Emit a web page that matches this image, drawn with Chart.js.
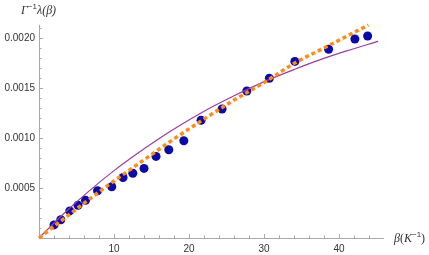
<!DOCTYPE html>
<html>
<head>
<meta charset="utf-8">
<script src="https://cdn.jsdelivr.net/npm/chart.js@4.4.1/dist/chart.umd.min.js"></script>
<style>
  html, body { margin: 0; padding: 0; background: #fff; }
  canvas { display: block; }
</style>
</head>
<body>
<canvas id="chart" width="429" height="255"></canvas>
<script>
// measured points (beta in 1/K, lambda/Gamma)
var betaPts = [2.0, 2.9, 4.1, 5.2, 6.2, 7.8, 9.7, 11.2, 12.5, 14.0, 15.6, 17.3, 19.3, 21.6, 24.4, 27.7, 30.7, 34.1, 38.6, 42.1, 43.8];
var lamPts = [0.000131, 0.000183, 0.000271, 0.000328, 0.000378, 0.000473, 0.000513, 0.000605, 0.000648, 0.000696, 0.000816, 0.000883, 0.000973, 0.001178, 0.00129, 0.00147, 0.001598, 0.001766, 0.001888, 0.00199, 0.00202];

// orange dashed curve
var fitBeta = [0, 4.3, 8.7, 13.2, 17.4, 21.6, 25.8, 30.1, 34.1, 38.5, 43.9];
var fitLam = [0, 0.00025, 0.0005, 0.00074, 0.00096, 0.00117, 0.00137, 0.00156, 0.00175, 0.00192, 0.00213];

// purple thin curve
var theoryBeta = [0, 3, 6.5, 10, 13.2, 17, 21.6, 26, 30.1, 34, 37.4, 41, 45.2];
var theoryLam = [0, 0.000223, 0.000459, 0.000674, 0.00085, 0.001043, 0.001251, 0.001422, 0.001566, 0.001685, 0.001781, 0.001871, 0.001966];

var xTicks = [10, 20, 30, 40];
var yTicks = [0.0005, 0.001, 0.0015, 0.002];

function toXY(xs, ys) {
  return xs.map(function (x, i) { return { x: x, y: ys[i] }; });
}

var axisColor = "#a8a8a8";

// small ticks drawn inside the axes, like the original
var innerTicks = {
  id: "innerTicks",
  beforeDatasetsDraw: function (chart) {
    var ctx = chart.ctx;
    var xs = chart.scales.x, ys = chart.scales.y;
    var a = chart.chartArea;
    ctx.save();
    ctx.strokeStyle = axisColor;
    ctx.lineWidth = 1;
    ctx.beginPath();
    for (var i = 2; i <= 44; i += 2) {
      var px = Math.round(xs.getPixelForValue(i)) + 0.5;
      var len = (i % 10 === 0) ? 4 : 2.5;
      ctx.moveTo(px, a.bottom);
      ctx.lineTo(px, a.bottom - len);
    }
    for (var j = 1; j <= 21; j++) {
      var py = Math.round(ys.getPixelForValue(j * 0.0001)) + 0.5;
      var l2 = (j % 5 === 0) ? 4 : 2.5;
      ctx.moveTo(a.left, py);
      ctx.lineTo(a.left + l2, py);
    }
    ctx.stroke();
    ctx.restore();
  }
};

// axis labels with superscripts
function drawParts(ctx, parts, x, y) {
  parts.forEach(function (p) {
    ctx.font = p.font;
    ctx.fillText(p.t, x, y + (p.dy || 0));
    x += ctx.measureText(p.t).width;
  });
}

var axisLabels = {
  id: "axisLabels",
  afterDraw: function (chart) {
    var ctx = chart.ctx;
    ctx.save();
    ctx.fillStyle = "#333";
    ctx.textBaseline = "middle";
    ctx.textAlign = "left";
    var it = "italic 12px 'Liberation Serif'";
    var sup = "8px 'Liberation Sans'";
    drawParts(ctx, [
      { t: "Γ", font: it },
      { t: "−1", font: sup, dy: -4 },
      { t: "λ(β)", font: it }
    ], 21, 11);
    drawParts(ctx, [
      { t: "β", font: it },
      { t: "(", font: "12px 'Liberation Serif'" },
      { t: "K", font: it },
      { t: "−1", font: sup, dy: -4 },
      { t: ")", font: "12px 'Liberation Serif'" }
    ], 394, 239);
    ctx.restore();
  }
};

new Chart(document.getElementById("chart"), {
  type: "scatter",
  data: {
    datasets: [
      {
        label: "fit",
        data: toXY(fitBeta, fitLam),
        showLine: true,
        borderColor: "#ff8c1a",
        borderWidth: 3.5,
        borderDash: [4, 3],
        pointRadius: 0,
        cubicInterpolationMode: "monotone",
        fill: false,
        clip: false,
        order: 1
      },
      {
        label: "theory",
        data: toXY(theoryBeta, theoryLam),
        showLine: true,
        borderColor: "#9b3d9f",
        borderWidth: 1.2,
        pointRadius: 0,
        cubicInterpolationMode: "monotone",
        fill: false,
        clip: false,
        order: 2
      },
      {
        label: "data",
        data: toXY(betaPts, lamPts),
        showLine: false,
        pointRadius: 4.5,
        pointBackgroundColor: "#0a0aa6",
        pointBorderWidth: 0,
        clip: false,
        order: 3
      }
    ]
  },
  options: {
    responsive: false,
    animation: false,
    events: [],
    layout: { padding: { left: 0, top: 25, right: 46, bottom: 0 } },
    plugins: { legend: { display: false }, tooltip: { enabled: false } },
    scales: {
      x: {
        type: "linear",
        min: 0,
        max: 45.85,
        grid: { display: false, drawTicks: false },
        border: { display: true, color: axisColor, width: 1 },
        afterFit: function (s) { s.height = 17; },
        afterBuildTicks: function (s) {
          s.ticks = xTicks.map(function (v) { return { value: v }; });
        },
        ticks: {
          padding: 5,
          maxRotation: 0,
          color: "#333",
          font: { family: "'Liberation Sans'", size: 10 },
          callback: function (v) { return String(v); }
        }
      },
      y: {
        type: "linear",
        min: 0,
        max: 0.00213,
        grid: { display: false, drawTicks: false },
        border: { display: true, color: axisColor, width: 1 },
        afterFit: function (s) { s.width = 39; },
        afterBuildTicks: function (s) {
          s.ticks = yTicks.map(function (v) { return { value: v }; });
        },
        ticks: {
          padding: 4,
          color: "#333",
          font: { family: "'Liberation Sans'", size: 10 },
          callback: function (v) { return Number(v).toFixed(4); }
        }
      }
    }
  },
  plugins: [innerTicks, axisLabels]
});
</script>
</body>
</html>
